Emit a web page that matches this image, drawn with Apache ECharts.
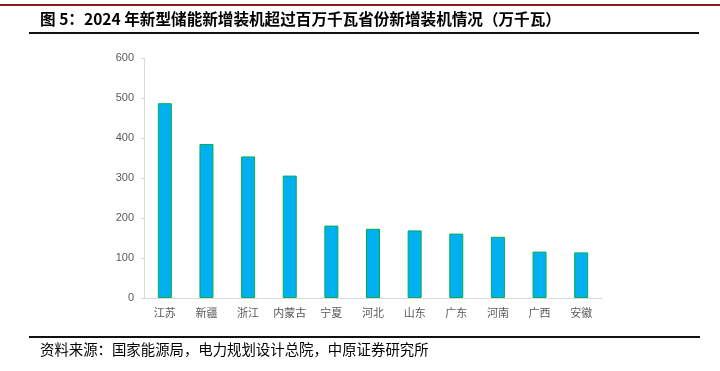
<!DOCTYPE html>
<html>
<head>
<meta charset="utf-8">
<script src="https://cdn.jsdelivr.net/npm/echarts@6/dist/echarts.min.js"></script>
<style>
html,body{margin:0;padding:0;background:#fff;}
#c{width:720px;height:371px;}
</style>
</head>
<body>
<div id="c"></div>
<script>
var titleText = '图 5：2024 年新型储能新增装机超过百万千瓦省份新增装机情况（万千瓦）';
var sourceText = '资料来源：国家能源局，电力规划设计总院，中原证券研究所';
var categories = ['江苏','新疆','浙江','内蒙古','宁夏','河北','山东','广东','河南','广西','安徽'];
var values = [487, 385, 354, 306, 181, 173, 169, 161, 153, 116, 114];
var yTicks = [0, 100, 200, 300, 400, 500, 600];

var chart = echarts.init(document.getElementById('c'), null, {renderer:'canvas'});
var font = '"Noto Sans CJK SC", "Noto Sans", sans-serif';
chart.setOption({
  animation: false,
  backgroundColor: '#fff',
  grid: {left: 144, right: 118, top: 58, bottom: 73, containLabel: false},
  xAxis: {
    type: 'category',
    data: categories,
    axisLine: {show: true, lineStyle: {color: '#d9d9d9', width: 1}},
    axisTick: {show: false},
    axisLabel: {interval: 0, color: '#595959', fontSize: 11, margin: 9, fontFamily: font}
  },
  yAxis: {
    type: 'value',
    min: yTicks[0],
    max: yTicks[yTicks.length - 1],
    interval: 100,
    splitLine: {show: false},
    axisLine: {show: true, lineStyle: {color: '#d9d9d9', width: 1}},
    axisTick: {show: true, length: 3, lineStyle: {color: '#d9d9d9'}},
    axisLabel: {color: '#595959', fontSize: 11, margin: 10, fontFamily: 'Arial, "Liberation Sans", sans-serif'}
  },
  series: [{
    type: 'bar',
    data: values,
    barWidth: 14,
    itemStyle: {color: '#00B0F0', borderColor: '#00B050', borderWidth: 1}
  }],
  graphic: [
    {type: 'rect', shape: {x: 0, y: 4, width: 720, height: 2}, style: {fill: '#8B1A1A'}},
    {type: 'text', left: 40, top: 11, style: {text: titleText, fill: '#000', font: 'bold 15.6px ' + font}},
    {type: 'rect', shape: {x: 29, y: 32, width: 670, height: 2}, style: {fill: '#111'}},
    {type: 'rect', shape: {x: 29, y: 336, width: 671, height: 2}, style: {fill: '#111'}},
    {type: 'text', left: 40, top: 342, style: {text: sourceText, fill: '#000', font: '14.4px ' + font}}
  ]
});
</script>
</body>
</html>
